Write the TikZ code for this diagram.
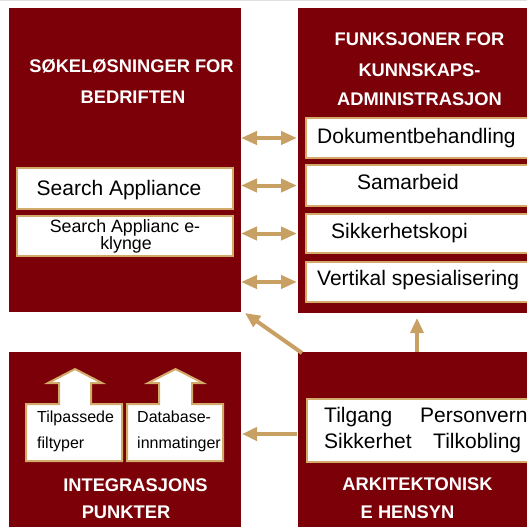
\documentclass[tikz,border=0pt]{standalone}
\usepackage{fontspec}
\setmainfont{Liberation Sans}
\usetikzlibrary{arrows.meta}
\definecolor{maroon}{HTML}{7B0008}
\definecolor{arrowtan}{HTML}{C9A064}
\definecolor{boxtan}{HTML}{D2AA6A}
\begin{document}
\begin{tikzpicture}[x=1pt,y=-1pt,
  panel/.style={fill=maroon, draw=none, inner sep=0, outer sep=0, anchor=north west},
  wbox/.style={fill=white, draw=boxtan, line width=2pt, inner sep=0, outer sep=0, anchor=north west},
  title/.style={text=white, font=\fontsize{18.3}{29}\selectfont\bfseries, inner sep=0, anchor=base},
  txt/.style={font=\fontsize{21}{24}\selectfont, inner sep=0, text=black, anchor=base west},
  mtxt/.style={font=\fontsize{17.8}{18}\selectfont, inner sep=0, anchor=base},
  stxt/.style={font=\fontsize{16}{26}\selectfont, inner sep=0, anchor=base west},
  blockarrow/.style={fill=white, draw=boxtan, line width=2pt, line join=miter},
  conn/.style={draw=arrowtan, line width=4pt, -{Triangle[length=15pt,width=13pt]}},
  dconn/.style={draw=arrowtan, line width=4pt, {Triangle[length=16pt,width=13pt]}-{Triangle[length=16pt,width=13pt]}}]
\useasboundingbox (0,0) rectangle (527,527);
\clip (0,0) rectangle (527,527);
\fill[black!12] (0,0) rectangle (527,1.5);

% panels
\node[panel, minimum width=232pt, minimum height=304pt] (tl) at (9,8) {};
\node[panel, minimum width=238pt, minimum height=305pt] (tr) at (298,8) {};
\node[panel, minimum width=232pt, minimum height=180pt] (bl) at (9,352) {};
\node[panel, minimum width=238pt, minimum height=180pt] (br) at (298,352) {};

% titles
\node[title] (tlt1) at (131.5,73) {SØKELØSNINGER FOR};
\node[title] (tlt2) at (133,103) {BEDRIFTEN};
\node[title] (trt1) at (419.5,46) {FUNKSJONER FOR};
\node[title] (trt2) at (419.5,76) {KUNNSKAPS-};
\node[title] (trt3) at (419.5,105) {ADMINISTRASJON};
\node[title] (blt1) at (135.5,491) {INTEGRASJONS};
\node[title] (blt2) at (126,518) {PUNKTER};
\node[title] (brt1) at (417.5,490) {ARKITEKTONISK};
\node[title] (brt2) at (407.5,518) {E HENSYN};

% left boxes
\node[wbox, minimum width=216pt, minimum height=41pt] (sa) at (17,168) {};
\node[txt, anchor=base] (sat) at (119,195) {Search Appliance};
\node[wbox, minimum width=216pt, minimum height=40pt] (sk) at (17,216) {};
\node[mtxt] (skt1) at (125,232) {Search Applianc e-};
\node[mtxt] (skt2) at (126,249.5) {klynge};

% right boxes
\node[wbox, minimum width=240pt, minimum height=40pt] (d1) at (306,118) {};
\node[wbox, minimum width=240pt, minimum height=41pt] (d2) at (306,165) {};
\node[wbox, minimum width=240pt, minimum height=39pt] (d3) at (306,214) {};
\node[wbox, minimum width=240pt, minimum height=40pt] (d4) at (306,262) {};
\node[txt] (d1t) at (317,143) {Dokumentbehandling};
\node[txt] (d2t) at (357,189.5) {Samarbeid};
\node[txt] (d3t) at (331,238) {Sikkerhetskopi};
\node[txt] (d4t) at (317,285) {Vertikal spesialisering};

% double arrows
\draw[dconn] (d1.west -| tl.east) -- ([xshift=-1pt]d1.west -| tr.west);
\draw[dconn] (d2.west -| tl.east) -- ([xshift=-1pt]d2.west -| tr.west);
\draw[dconn] (d3.west -| tl.east) -- ([xshift=-1pt]d3.west -| tr.west);
\draw[dconn] (d4.west -| tl.east) -- ([xshift=-1pt]d4.west -| tr.west);

% block arrows bottom left
\draw[blockarrow] (26,461) -- (26,404) -- (59,404) -- (59,383) -- (48,383) -- (75,369) -- (102,383) -- (91,383) -- (91,404) -- (122,404) -- (122,461) -- cycle;
\draw[blockarrow] (127,461) -- (127,404) -- (159,404) -- (159,383) -- (148,383) -- (175.5,369) -- (203,383) -- (192,383) -- (192,404) -- (223,404) -- (223,461) -- cycle;
\node[stxt] (ba1a) at (37,422) {Tilpassede};
\node[stxt] (ba1b) at (37,448) {filtyper};
\node[stxt] (ba2a) at (137,422) {Database-};
\node[stxt] (ba2b) at (137,448) {innmatinger};

% bottom right box
\node[wbox, minimum width=240pt, minimum height=63pt] (tb) at (307,399) {};
\node[txt] (t1) at (324,422) {Tilgang};
\node[txt] (t2) at (420,422) {Personvern};
\node[txt] (t3) at (324,448.5) {Sikkerhet};
\node[txt] (t4) at (433,448.5) {Tilkobling};

% connectors
\coordinate (ba) at (297,434);
\draw[conn] (ba) -- ([xshift=1pt]ba -| bl.east);
\draw[conn] ([shift={(4,1)}]br.north west) -- ([shift={(4,1)}]tl.south east);
\draw[conn, line width=3.5pt] (br.north) -- ([shift={(0,5)}]tr.south);
\end{tikzpicture}
\end{document}
